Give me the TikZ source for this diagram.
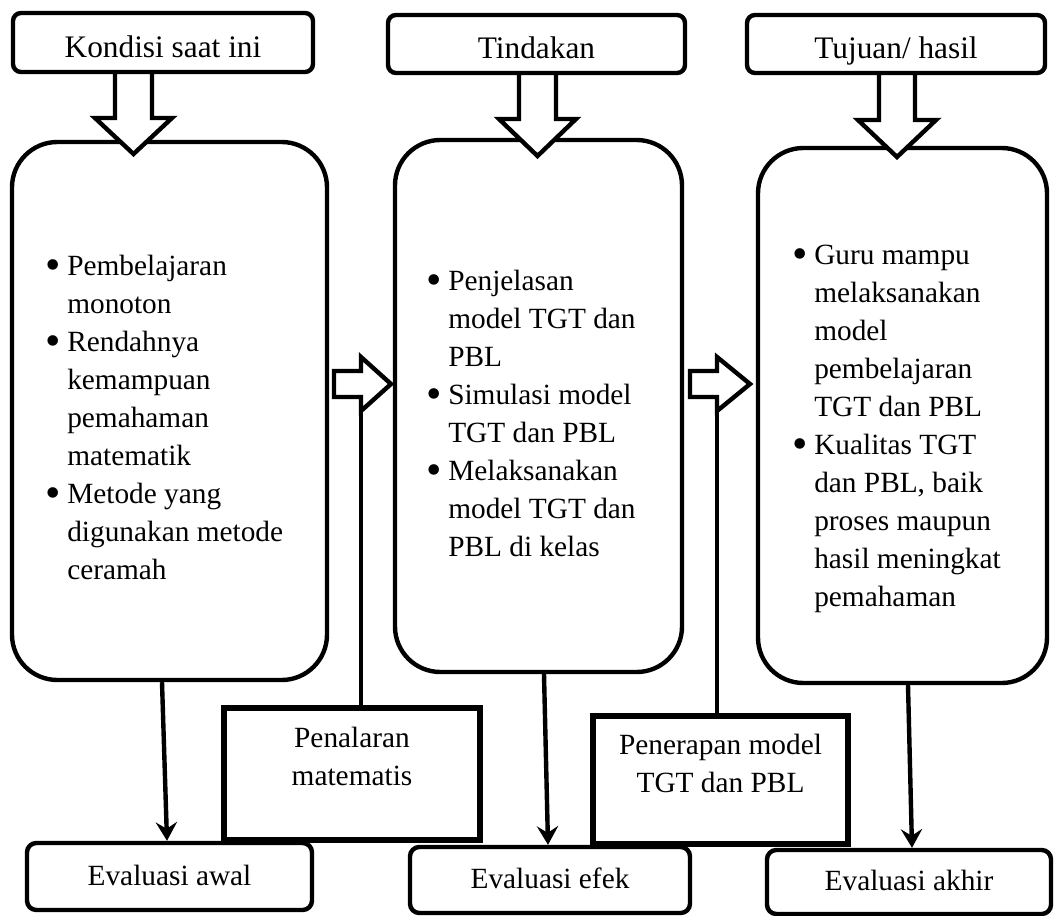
\documentclass[tikz,border=0pt]{standalone}
\usepackage{fontspec}
\usepackage{graphicx}
\setmainfont{Liberation Serif}
\usetikzlibrary{arrows.meta,calc}
\newcommand\bigbul{\makebox[14.25pt][l]{\hspace{-2pt}\raisebox{-0.17em}{\scalebox{1.5}{\textbullet}}}}
\begin{document}
\begin{tikzpicture}[x=0.75pt,y=-0.75pt,
  hdr/.style={draw, line width=3.3pt, rounded corners=6pt, fill=white, inner sep=0pt, text height=23pt, text depth=0.5pt, font=\fontsize{23.5}{28}\selectfont},
  mainbox/.style={draw, line width=3.3pt, rounded corners=34pt, inner sep=0pt},
  plainbox/.style={draw, line width=3.8pt, inner sep=0pt, fill=white},
  evalbox/.style={draw, line width=3.3pt, rounded corners=7pt, fill=white, inner sep=0pt, text height=15pt, text depth=2.25pt, font=\fontsize{22}{28}\selectfont},
  txt/.style={inner sep=0pt, anchor=base, font=\fontsize{22}{28.5}\selectfont},
  blist/.style={inner sep=0pt, anchor=base west, font=\fontsize{22}{28.5}\selectfont},
  barrow/.style={draw, line width=3.3pt, fill=white, line join=miter},
  conn/.style={line width=3.3pt, -{Stealth[length=14pt,width=16pt,inset=5pt]}},
  link/.style={line width=3.3pt}
]
\useasboundingbox (0,0) rectangle (1059,916);

% main boxes
\node[mainbox, minimum width=236.25pt, minimum height=403.5pt] (b1) at (169.5,411) {};
\node[mainbox, minimum width=215.25pt, minimum height=399pt] (b2) at (538.5,406) {};
\node[mainbox, minimum width=216.75pt, minimum height=401.25pt] (b3) at (902.5,415.5) {};

% bullet lists
\node[blist] (t1) at (48,275) {\begin{tabular}[t]{@{}p{14.25pt}@{}l@{}}
\bigbul & Pembelajaran\\ & monoton\\
\bigbul & Rendahnya\\ & kemampuan\\ & pemahaman\\ & matematik\\
\bigbul & Metode yang\\ & digunakan metode\\ & ceramah
\end{tabular}};
\node[blist] (t2) at (429,290) {\begin{tabular}[t]{@{}p{14.25pt}@{}l@{}}
\bigbul & Penjelasan\\ & model TGT dan\\ & PBL\\
\bigbul & Simulasi model\\ & TGT dan PBL\\
\bigbul & Melaksanakan\\ & model TGT dan\\ & PBL di kelas
\end{tabular}};
\node[blist] (t3) at (795,264) {\begin{tabular}[t]{@{}p{14.25pt}@{}l@{}}
\bigbul & Guru mampu\\ & melaksanakan\\ & model\\ & pembelajaran\\ & TGT dan PBL\\
\bigbul & Kualitas TGT\\ & dan PBL, baik\\ & proses maupun\\ & hasil meningkat\\ & pemahaman
\end{tabular}};

% right block arrows
\draw[barrow] (334,371) -- (361,371) -- (361,357) -- (391,384) -- (361,411) -- (361,397) -- (334,397) -- cycle;
\draw[barrow] (690,371) -- (717,371) -- (717,357) -- (750,384) -- (717,411) -- (717,397) -- (690,397) -- cycle;
\coordinate (r1b) at (361,411);
\coordinate (r2b) at (717,411);

% down block arrows
\draw[barrow] (115,72) -- (115,118) -- (95,118) -- (133.5,154) -- (172,118) -- (152,118) -- (152,72);
\draw[barrow] (519,73) -- (519,119) -- (499,119) -- (537.5,156) -- (576,119) -- (556,119) -- (556,73);
\draw[barrow] (879,73) -- (879,120) -- (858,120) -- (897,157) -- (936,120) -- (915,120) -- (915,73);

% headers
\node[hdr, minimum width=225pt, minimum height=44.25pt] (h1) at (163,42.5) {Kondisi saat ini};
\node[hdr, minimum width=222.75pt, minimum height=43.5pt] (h2) at (536.5,44) {Tindakan};
\node[hdr, minimum width=223.5pt, minimum height=43.5pt] (h3) at (896,44) {Tujuan/ hasil};

% middle boxes
\node[plainbox, minimum width=192pt, minimum height=99pt] (p1) at (352,774) {};
\node[plainbox, minimum width=191.25pt, minimum height=96pt] (p2) at (720.5,780) {};
\node[txt] (p1t) at (352,747) {\begin{tabular}[t]{@{}c@{}}Penalaran\\matematis\end{tabular}};
\node[txt] (p2t) at (720.5,754) {\begin{tabular}[t]{@{}c@{}}Penerapan model\\TGT dan PBL\end{tabular}};
\draw[link] ([xshift=6.75pt]p1.north) -- (r1b);
\draw[link] ([xshift=-2.625pt]p2.north) -- (r2b);

% evaluation boxes
\node[evalbox, minimum width=213.75pt, minimum height=50.25pt] (e1) at (169.5,876.5) {Evaluasi awal};
\node[evalbox, minimum width=210pt, minimum height=49.5pt] (e2) at (550,880) {Evaluasi efek};
\node[evalbox, minimum width=213pt, minimum height=48pt] (e3) at (909,882) {Evaluasi akhir};

% down connectors
\draw[conn] ([xshift=-5.625pt]b1.south) -- ([xshift=-1.875pt]e1.north);
\draw[conn] ([xshift=4.125pt]b2.south) -- ([xshift=-1.5pt]e2.north);
\draw[conn] ([xshift=4.125pt]b3.south) -- ([xshift=2.25pt]e3.north);
\end{tikzpicture}
\end{document}
